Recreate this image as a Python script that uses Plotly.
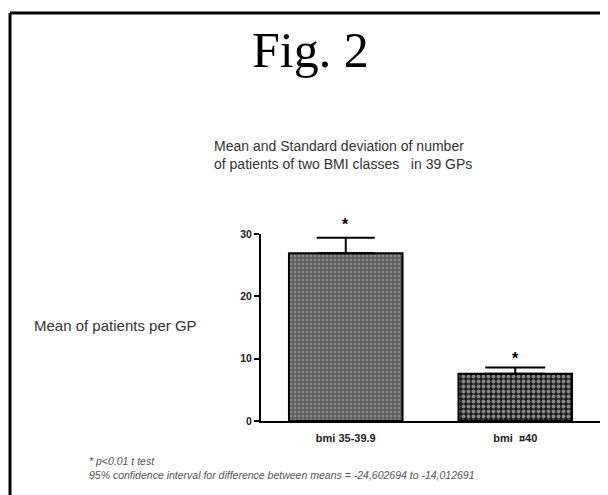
import plotly.graph_objects as go

categories = ["bmi 35-39.9", "bmi  \u00a440"]
means = [26.9, 7.6]
sd = [2.5, 1.0]
y_ticks = [0, 10, 20, 30]
footnote_1 = "* p<0.01 t test"
footnote_2 = "95% confidence interval for difference between means = -24,602694 to -14,012691"

OFF = 8  # page body margin
W, H = 600, 487
L, R, T, B = 253, 8, 226, 74
PW, PH = W - L - R, H - T - B

def px(x):
    return (x - OFF - L) / PW

def py(y):
    return (H - B - (y - OFF)) / PH

fig = go.Figure()
fig.add_trace(go.Bar(
    x=categories[:1], y=means[:1], width=0.67,
    marker=dict(color="#777777", line=dict(color="black", width=2),
                pattern=dict(shape=".", fgcolor="#b8b8b8", bgcolor="#5e5e5e", size=4, solidity=0.35)),
    error_y=dict(type="data", symmetric=False, array=sd[:1], arrayminus=[0],
                 color="black", thickness=2, width=29),
    showlegend=False,
))
fig.add_trace(go.Bar(
    x=categories[1:], y=means[1:], width=0.67,
    marker=dict(color="#333333", line=dict(color="black", width=2),
                pattern=dict(shape=".", fgcolor="#f0f0f0", bgcolor="#1e1e1e", size=5, solidity=0.45)),
    error_y=dict(type="data", symmetric=False, array=sd[1:], arrayminus=[0],
                 color="black", thickness=2, width=30),
    showlegend=False,
))

star_shift = [3, -2]
for c, m, s, sh in zip(categories, means, sd, star_shift):
    fig.add_annotation(x=c, y=m + s, text="*", showarrow=False, yanchor="bottom",
                       yshift=sh, font=dict(family="Liberation Sans", size=16, color="black", weight="bold"))

fig.update_layout(
    width=W, height=H,
    margin=dict(l=L, r=R, t=T, b=B),
    plot_bgcolor="white", paper_bgcolor="white",
    xaxis=dict(range=[-0.5, 1.5], showline=True, linecolor="black", linewidth=2,
               ticks="", showgrid=False, zeroline=False, ticklabelstandoff=6,
               tickfont=dict(family="Liberation Sans", size=11, color="#222", weight="bold")),
    yaxis=dict(range=[0, 30], tickvals=y_ticks, showline=True, linecolor="black", linewidth=2,
               ticks="outside", ticklen=5, tickwidth=2, tickcolor="black",
               showgrid=False, zeroline=False,
               tickfont=dict(family="Liberation Sans", size=10.5, color="#222", weight="bold")),
)

fig.add_annotation(xref="paper", yref="paper", x=px(310), y=py(50), text="Fig. 2",
                   showarrow=False, xanchor="center", yanchor="middle",
                   font=dict(family="Liberation Serif", size=50, color="black"))
fig.add_annotation(xref="paper", yref="paper", x=px(212), y=py(155), align="left",
                   text="Mean and Standard deviation of number<br>of patients of two BMI classes   in 39 GPs",
                   showarrow=False, xanchor="left", yanchor="middle",
                   font=dict(family="Liberation Sans", size=14, color="#333"))
fig.add_annotation(xref="paper", yref="paper", x=px(32), y=py(325),
                   text="Mean of patients per GP", showarrow=False, xanchor="left", yanchor="middle",
                   font=dict(family="Liberation Sans", size=15, color="#333"))
fig.add_annotation(xref="paper", yref="paper", x=px(87), y=py(468), align="left",
                   text=footnote_1 + "<br>" + footnote_2, showarrow=False, xanchor="left", yanchor="middle",
                   font=dict(family="Liberation Sans", size=10.5, color="#555", style="italic"))

fig.add_shape(type="line", xref="paper", yref="paper", x0=px(10), x1=px(608), y0=py(13), y1=py(13),
              line=dict(color="black", width=3))
fig.add_shape(type="line", xref="paper", yref="paper", x0=px(10), x1=px(10), y0=py(13), y1=py(495),
              line=dict(color="black", width=3))

fig.write_html("out.html")
